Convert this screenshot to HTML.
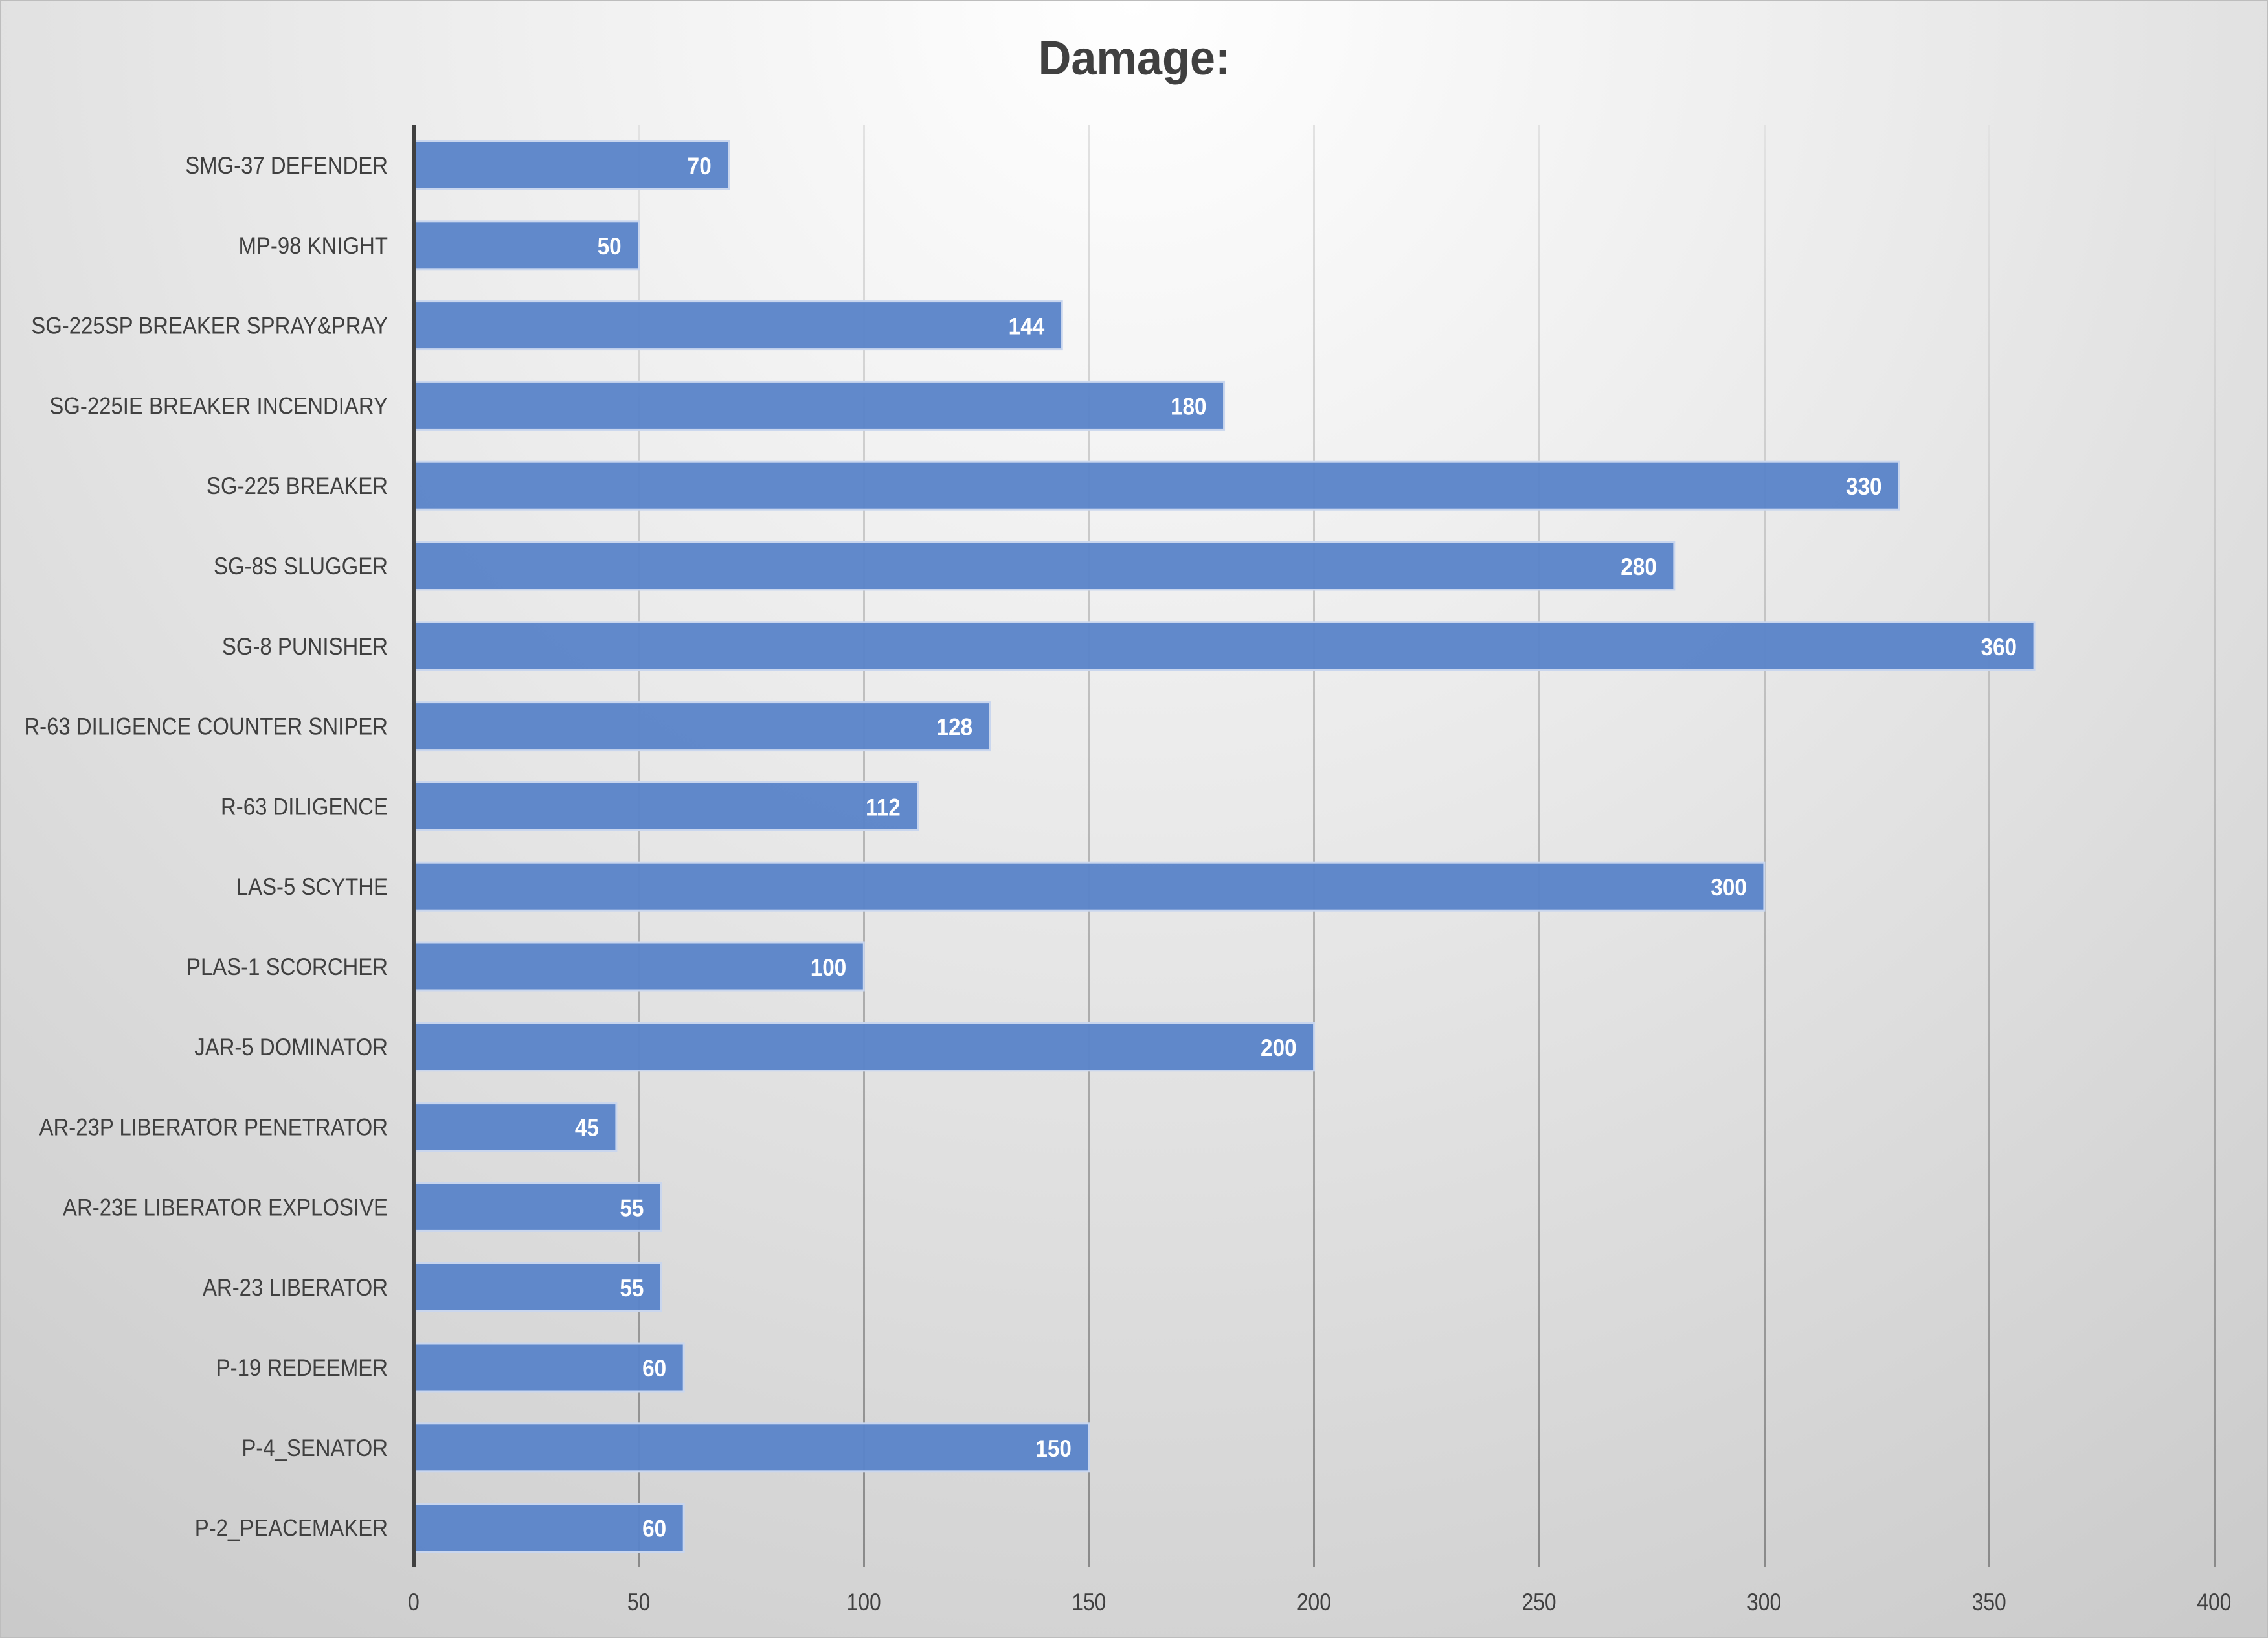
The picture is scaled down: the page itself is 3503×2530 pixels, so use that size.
<!DOCTYPE html>
<html><head><meta charset="utf-8"><style>
html,body{margin:0;padding:0}
body{width:3503px;height:2530px;overflow:hidden}
svg{display:block}
text{font-family:"Liberation Sans",sans-serif}
</style></head><body>
<svg width="3503" height="2530" viewBox="0 0 3503 2530" xmlns="http://www.w3.org/2000/svg">
<defs>
<radialGradient id="bg" cx="0.5" cy="0" r="1.2" gradientUnits="objectBoundingBox" gradientTransform="translate(0.5 0) scale(1 1.38) translate(-0.5 0)">
<stop offset="0" stop-color="#ffffff"/>
<stop offset="0.3" stop-color="#eaeaea"/>
<stop offset="0.7" stop-color="#cccccc"/>
<stop offset="1" stop-color="#b4b4b4"/>
</radialGradient>
<linearGradient id="gl" x1="0" y1="0" x2="0" y2="1">
<stop offset="0" stop-color="#e2e2e2"/>
<stop offset="1" stop-color="#8a8a8a"/>
</linearGradient>
</defs>
<rect x="0" y="0" width="3503" height="2530" fill="url(#bg)" stroke="#bdbdbd" stroke-width="4"/>
<text x="1752" y="115" font-size="74" font-weight="bold" fill="#404040" text-anchor="middle" transform="translate(1752 0) scale(0.95 1) translate(-1752 0)">Damage:</text>
<g fill="url(#gl)">
<rect x="985" y="193" width="3" height="2228"/>
<rect x="1333" y="193" width="3" height="2228"/>
<rect x="1681" y="193" width="3" height="2228"/>
<rect x="2028" y="193" width="3" height="2228"/>
<rect x="2376" y="193" width="3" height="2228"/>
<rect x="2724" y="193" width="3" height="2228"/>
<rect x="3071" y="193" width="3" height="2228"/>
<rect x="3419" y="193" width="3" height="2228"/>
</g>
<g id="bars" fill="#5b84c9" fill-opacity="0.96" stroke="#c9d6ee" stroke-width="3"></g>
<rect x="636" y="193" width="6" height="2228" fill="#404040"/>
<g id="ticks" font-size="37" fill="#404040" text-anchor="middle"></g>
<g id="lbl"></g>
</svg>
<script>
var d=[["SMG-37 DEFENDER",70],["MP-98 KNIGHT",50],["SG-225SP BREAKER SPRAY&PRAY",144],["SG-225IE BREAKER INCENDIARY",180],["SG-225 BREAKER",330],["SG-8S SLUGGER",280],["SG-8 PUNISHER",360],["R-63 DILIGENCE COUNTER SNIPER",128],["R-63 DILIGENCE",112],["LAS-5 SCYTHE",300],["PLAS-1 SCORCHER",100],["JAR-5 DOMINATOR",200],["AR-23P LIBERATOR PENETRATOR",45],["AR-23E LIBERATOR EXPLOSIVE",55],["AR-23 LIBERATOR",55],["P-19 REDEEMER",60],["P-4_SENATOR",150],["P-2_PEACEMAKER",60]];
var ns="http://www.w3.org/2000/svg",b=document.getElementById("bars"),l=document.getElementById("lbl"),tk=document.getElementById("ticks");
function T(par,x,y,txt,sx,attrs){var t=document.createElementNS(ns,"text");t.setAttribute("x",0);t.setAttribute("y",0);t.setAttribute("transform","translate("+x+" "+y+") scale("+sx+" 1)");for(var k in attrs)t.setAttribute(k,attrs[k]);t.textContent=txt;par.appendChild(t);}
for(var i=0;i<=8;i++){T(tk,639+i*347.6,2487,String(i*50),0.86,{});}
d.forEach(function(r,i){var cy=255+123.8*i,w=r[1]*6.953;
var e=document.createElementNS(ns,"rect");e.setAttribute("x",641);e.setAttribute("y",cy-37);e.setAttribute("width",w-2);e.setAttribute("height",74);b.appendChild(e);
T(l,599,cy+13,r[0],0.89,{"font-size":"37","fill":"#404040","text-anchor":"end"});
T(l,639+w-27,cy+14,String(r[1]),0.9,{"font-size":"37","font-weight":"bold","fill":"#ffffff","text-anchor":"end"});});
</script>
</body></html>
